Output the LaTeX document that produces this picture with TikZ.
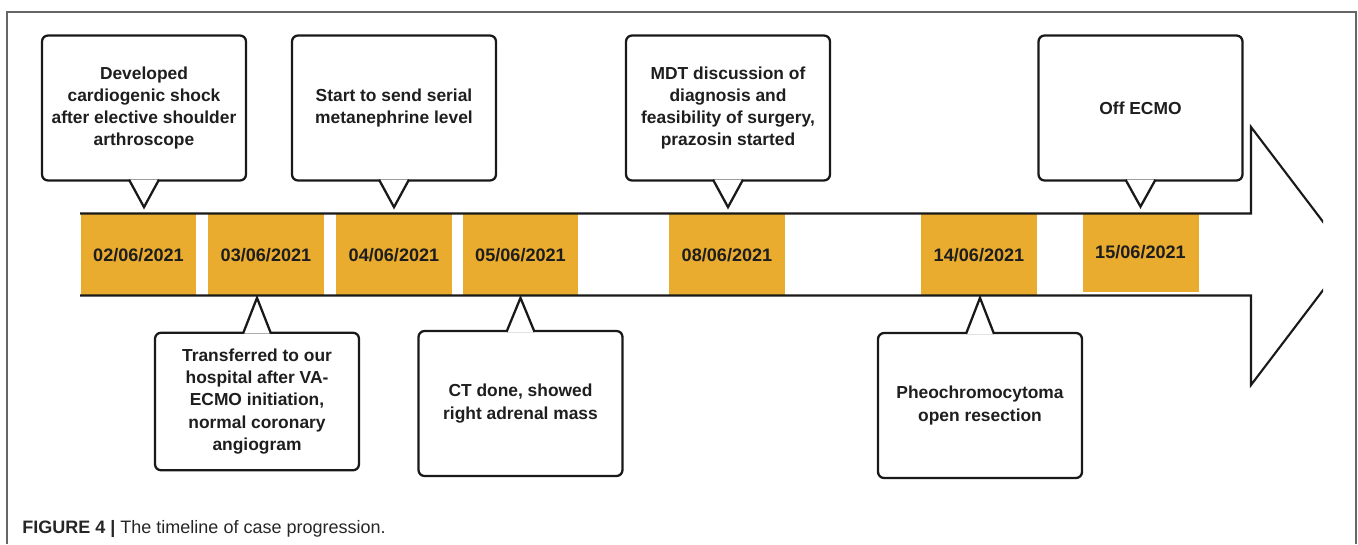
\documentclass[tikz,border=0pt]{standalone}
\usepackage{fontspec}
\setmainfont{Liberation Sans}
\usepackage{xcolor}
\usepackage{tikz}
\usetikzlibrary{calc, positioning}
\definecolor{arancio}{RGB}{234,172,46}
\definecolor{testo}{RGB}{30,30,30}

\begin{document}
\begin{tikzpicture}[x=0.02cm, y=-0.02cm,
    data/.style={fill=arancio, minimum width=2.32cm, minimum height=1.66cm, inner sep=0pt,
        text=testo, font=\fontsize{10.3}{12}\selectfont\bfseries},
    fumetto/.style={draw=black!90, fill=white, line width=1.3pt, rounded corners=0.12cm,
        minimum width=4.08cm, minimum height=2.9cm, inner sep=0pt, align=center,
        text=testo, font=\fontsize{9.9}{12.7}\selectfont\bfseries},
    punta/.style={draw=black!90, fill=white, line width=1.3pt, line join=miter}]

    % Area della figura
    \useasboundingbox (0,0) rectangle (1358,544);
    \draw[black!60, line width=0.6pt] (7,544) -- (7,12) -- (1356,12) -- (1356,544);

    % Date (riquadri arancioni)
    \node[data] (d1) at (138.5,255) {02/06/2021};
    \node[data] (d2) at (266,255) {03/06/2021};
    \node[data] (d3) at (394,255) {04/06/2021};
    \node[data] (d4) at (520.5,255) {05/06/2021};
    \node[data] (d5) at (727,255) {08/06/2021};
    \node[data] (d6) at (979,255) {14/06/2021};
    \node[data, minimum height=1.58cm] (d7) at (1140.5,252.5) {15/06/2021};

    % Freccia (tagliata a destra)
    \begin{scope}
        \clip (0,0) rectangle (1323,544);
        \draw[black!90, line width=1.2pt, line join=miter]
            (80,213.5) -- (1251,213.5) -- (1251,127) -- (1349,256)
            -- (1251,385) -- (1251,295.5) -- (80,295.5);
    \end{scope}

    % Fumetti sopra
    \node[fumetto] (c1) at (144,108) {Developed\\cardiogenic shock\\after elective shoulder\\arthroscope};
    \node[fumetto] (c2) at (394,108) {Start to send serial\\metanephrine level};
    \node[fumetto] (c3) at (728,108) {MDT discussion of\\diagnosis and\\feasibility of surgery,\\prazosin started};
    \node[fumetto] (c4) at (1140.5,108) {Off ECMO};

    % Fumetti sotto
    \node[fumetto, minimum height=2.75cm] (c5) at (257,401.5) {Transferred to our\\hospital after VA-\\ECMO initiation,\\normal coronary\\angiogram};
    \node[fumetto] (c6) at (520.5,403.5) {CT done, showed\\right adrenal mass};
    \node[fumetto] (c7) at (980,405.5) {Pheochromocytoma\\open resection};

    % Punte dei fumetti
    \foreach \c/\d in {c1/d1, c2/d3, c3/d5, c4/d7} {
        \draw[punta] ($(\c.south)+(-15,-2)$) -- ($(\c.south |- \d.north)+(0,-6)$) -- ($(\c.south)+(15,-2)$);
    }
    \foreach \c/\d in {c5/d2, c6/d4, c7/d6} {
        \draw[punta] ($(\c.north)+(-14,2)$) -- ($(\c.north |- \d.south)+(0,1)$) -- ($(\c.north)+(14,2)$);
    }

    % Didascalia
    \node[anchor=base west, inner sep=0pt, font=\fontsize{10.25}{12}\selectfont, text=black!85] (didascalia) at (22,533)
        {\textbf{FIGURE 4 |} The timeline of case progression.};

\end{tikzpicture}
\end{document}
